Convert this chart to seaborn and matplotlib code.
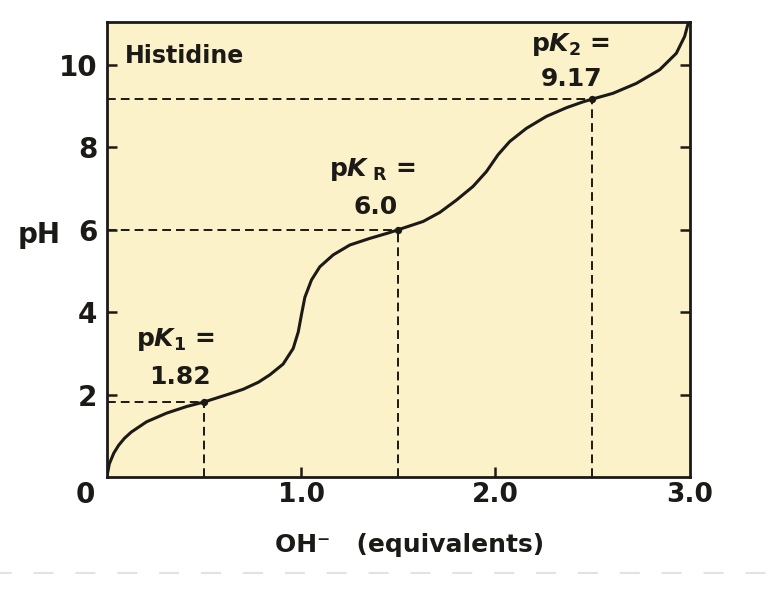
import matplotlib
matplotlib.use("Agg")
import matplotlib.pyplot as plt
from matplotlib.lines import Line2D
import pandas as pd
import seaborn as sns

# titration curve of histidine
curve_x = [0.0, 0.012, 0.035, 0.06, 0.09, 0.125, 0.204, 0.307, 0.41, 0.50, 0.633,
           0.702, 0.78, 0.839, 0.907, 0.959, 0.985, 1.002, 1.019, 1.053, 1.096,
           1.165, 1.251, 1.354, 1.448, 1.50, 1.628, 1.714, 1.80, 1.885, 1.954,
           2.014, 2.074, 2.16, 2.263, 2.366, 2.45, 2.50, 2.606, 2.726, 2.846,
           2.932, 2.975, 2.995]
curve_ph = [0.02, 0.32, 0.58, 0.77, 0.94, 1.09, 1.34, 1.55, 1.71, 1.82, 2.02,
            2.13, 2.30, 2.48, 2.74, 3.12, 3.52, 3.95, 4.36, 4.78, 5.10,
            5.39, 5.63, 5.79, 5.92, 6.0, 6.2, 6.42, 6.72, 7.05, 7.41,
            7.82, 8.14, 8.46, 8.75, 8.96, 9.10, 9.17, 9.31, 9.55, 9.88,
            10.28, 10.69, 11.04]

# pK points
pk_x = [0.5, 1.5, 2.5]
pk_ph = [1.82, 6.0, 9.17]
pk_top = [r"p$\mathit{K}_{\mathrm{1}}$ =", r"p$\mathit{K}_{\ \mathrm{R}}$ =", r"p$\mathit{K}_{\mathrm{2}}$ ="]
pk_bottom = ["1.82", "6.0", "9.17"]
pk_top_xy = [(0.355, 3.33), (1.364, 7.45), (2.388, 10.49)]
pk_bottom_xy = [(0.377, 2.43), (1.385, 6.55), (2.393, 9.66)]

y_ticks = [2, 4, 6, 8, 10]
x_ticks = [1.0, 2.0, 3.0]
x_tick_labels = ["1.0", "2.0", "3.0"]

ink = "#1c1a17"
paper = "#fcf2c9"

sns.set_theme(style="ticks")
plt.rcParams["font.family"] = ["DejaVu Sans"]
plt.rcParams["font.weight"] = "bold"
plt.rcParams["axes.labelweight"] = "bold"
plt.rcParams["mathtext.fontset"] = "custom"
plt.rcParams["mathtext.rm"] = "DejaVu Sans:bold"
plt.rcParams["mathtext.it"] = "DejaVu Sans:italic:bold"
plt.rcParams["mathtext.bf"] = "DejaVu Sans:bold"
plt.rcParams["text.color"] = ink

df = pd.DataFrame({"equiv": curve_x, "ph": curve_ph})
pk = pd.DataFrame({"equiv": pk_x, "ph": pk_ph})

fig = plt.figure(figsize=(7.72, 5.98), dpi=100)
ax = fig.add_axes([107 / 772, 1 - 477 / 598, 582.5 / 772, 455 / 598])
ax.set_facecolor(paper)

# dashed guides from each pK point to the axes
for x, y in zip(pk_x, pk_ph):
    ax.plot([0, x], [y, y], color=ink, lw=1.4, ls=(0, (4.5, 2.6)), zorder=2)
    ax.plot([x, x], [0, y], color=ink, lw=1.4, ls=(0, (4.5, 2.6)), zorder=2)

sns.lineplot(data=df, x="equiv", y="ph", sort=False, estimator=None,
             color=ink, lw=2.2, ax=ax, zorder=3, solid_joinstyle="round")
sns.scatterplot(data=pk, x="equiv", y="ph", color=ink, s=28, linewidth=0,
                ax=ax, zorder=4)

for txt, (tx, ty) in zip(pk_top, pk_top_xy):
    ax.text(tx, ty, txt, ha="center", va="center", fontsize=18)
for txt, (tx, ty) in zip(pk_bottom, pk_bottom_xy):
    ax.text(tx, ty, txt, ha="center", va="center", fontsize=18)

ax.text(0.03, 0.925, "Histidine", transform=ax.transAxes, ha="left", va="center",
        fontsize=17)

ax.set_xlim(0, 3.0)
ax.set_ylim(0, 11.04)
ax.set_xticks(x_ticks[:-1])
ax.set_xticklabels([])
ax.set_yticks(y_ticks)
ax.set_yticklabels([str(t) for t in y_ticks])
# x labels drawn by hand so that 3.0 sits under the right frame
for t, lab in zip(x_ticks, x_tick_labels):
    ax.text(t, -0.04, lab, transform=ax.get_xaxis_transform(), ha="center",
            va="center", fontsize=19)
ax.text(-0.038, -0.04, "0", transform=ax.transAxes, ha="center", va="center",
        fontsize=20)

ax.tick_params(axis="both", direction="in", length=7, width=1.8, color=ink,
               labelsize=20, labelcolor=ink)
ax.tick_params(axis="y", right=True, labelright=False, pad=7)

for side in ax.spines.values():
    side.set_linewidth(2.0)
    side.set_color(ink)

ax.set_xlabel("OH\u207b   (equivalents)", fontsize=18, color=ink)
ax.xaxis.set_label_coords(0.52, -0.149)
ax.xaxis.label.set_va("center")
ax.set_ylabel("pH", fontsize=20, rotation=0, color=ink)
ax.yaxis.set_label_coords(-0.117, 0.532)
ax.yaxis.label.set_ha("center")
ax.yaxis.label.set_va("center")

# faint dashed rule under the figure
fig.add_artist(Line2D([0, 1], [1 - 573 / 598] * 2, transform=fig.transFigure,
                      color="#e2e2e2", lw=1.5, ls=(4, (9.6, 10.5))))

fig.savefig("out.png", dpi=100)
